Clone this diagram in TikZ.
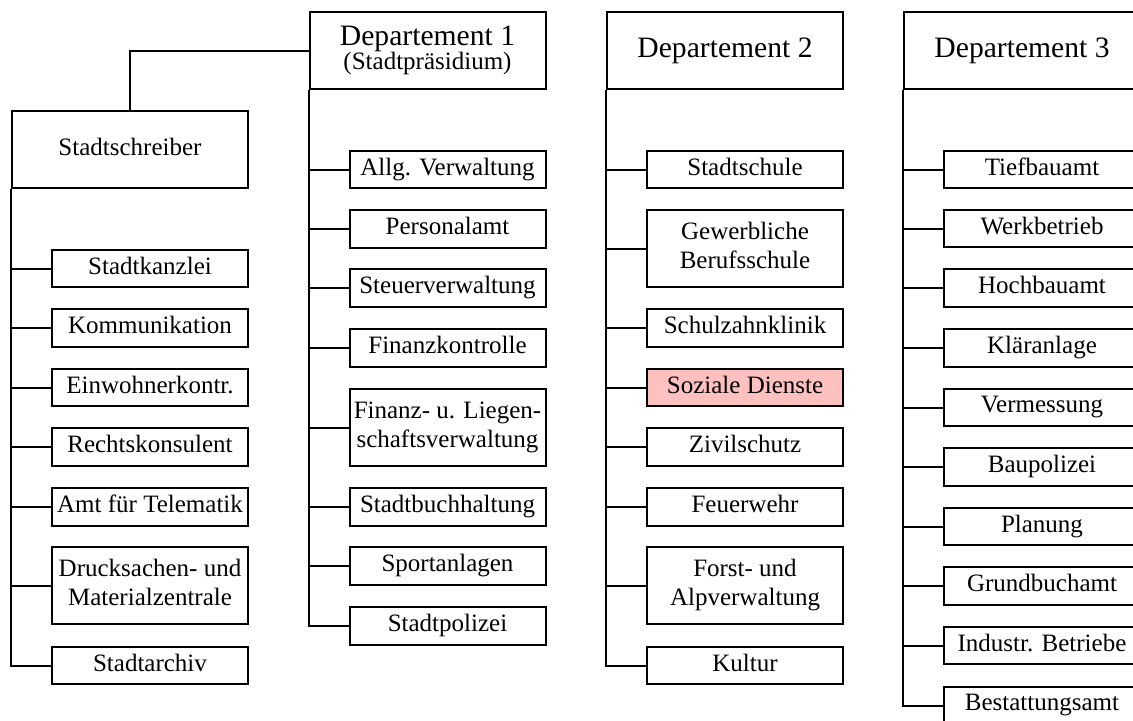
\documentclass[tikz,border=0pt]{standalone}
\usepackage{fontspec}
\setmainfont{Liberation Serif}
\definecolor{sozial}{RGB}{255,192,192}
\newcommand{\st}{\rule[-3pt]{0pt}{10pt}}

\begin{document}
\begin{tikzpicture}[x=0.5pt, y=-0.5pt, line width=1pt,
		amt/.style={draw, fill=white, minimum width=98pt, inner sep=0pt, align=center, font=\fontsize{12.5}{14.5}\selectfont},
		dept/.style={draw, minimum width=118pt, minimum height=38.5pt, inner sep=0pt, align=center, font=\fontsize{14.8}{12}\selectfont}]
		\clip (0,0) rectangle (1133,720);

		\node[dept] (d1) at (427.5,50.5) {Departement 1\\{\fontsize{12.5}{12}\selectfont (Stadtpräsidium)}};
		\node[dept] (d2) at (725,50.5) {\st Departement 2};
		\node[dept] (d3) at (1022,50.5) {\st Departement 3};
		\node[dept, font=\fontsize{12.5}{14.5}\selectfont] (ss) at (130,149.5) {\st Stadtschreiber};
		\draw (ss.north) |- (d1.west);

		\foreach \n/\y/\h/\f/\t in {kanzlei/268.5/18.75/white/Stadtkanzlei, komm/328/18.75/white/Kommunikation,
			einw/387.5/18.75/white/Einwohnerkontr., recht/447/18.75/white/Rechtskonsulent,
			telem/507/18.75/white/Amt für Telematik, druck/585.5/38.5/white/Drucksachen- und\\\st Materialzentrale,
			archiv/665.5/18.75/white/Stadtarchiv}
		{
			\node[amt, minimum height=\h pt, fill=\f] (\n) at (150,\y) {\st\t};
			\draw (ss.south west |- \n.west) -- (\n.west);
		}
		\draw (ss.south west) |- (archiv.west);

		\foreach \n/\y/\h/\f/\t in {allg/169.5/18.75/white/Allg. Verwaltung, personal/229/18.75/white/Personalamt,
			steuer/288/18.75/white/Steuerverwaltung, fkontr/348/18.75/white/Finanzkontrolle,
			liegen/427.5/38.5/white/Finanz- u. Liegen-\\\st schaftsverwaltung, buchh/507/18.75/white/Stadtbuchhaltung,
			sport/566/18.75/white/Sportanlagen, polizei/626/18.75/white/Stadtpolizei}
		{
			\node[amt, minimum height=\h pt, fill=\f] (\n) at (447.5,\y) {\st\t};
			\draw (d1.south west |- \n.west) -- (\n.west);
		}
		\draw (d1.south west) |- (polizei.west);

		\foreach \n/\y/\h/\f/\t in {schule/169.5/18.75/white/Stadtschule, gewerbe/248.5/38.5/white/Gewerbliche\\\st Berufsschule,
			zahn/328/18.75/white/Schulzahnklinik, sozial/387.5/18.75/sozial/Soziale Dienste,
			zivil/447/18.75/white/Zivilschutz, feuer/507/18.75/white/Feuerwehr,
			forst/585.5/38.5/white/Forst- und\\\st Alpverwaltung, kultur/665.5/18.75/white/Kultur}
		{
			\node[amt, minimum height=\h pt, fill=\f] (\n) at (745,\y) {\st\t};
			\draw (d2.south west |- \n.west) -- (\n.west);
		}
		\draw (d2.south west) |- (kultur.west);

		\foreach \n/\y/\t in {tief/169.5/Tiefbauamt, werk/228.5/Werkbetrieb, hoch/288/Hochbauamt,
			klaer/348/Kläranlage, verm/407.5/Vermessung, baupol/467/Baupolizei, planung/526.5/Planung,
			grund/586/Grundbuchamt, industr/645.5/Industr. Betriebe, bestatt/705.5/Bestattungsamt}
		{
			\node[amt, minimum height=18.75pt] (\n) at (1042,\y) {\st\t};
			\draw (d3.south west |- \n.west) -- (\n.west);
		}
		\draw (d3.south west) |- (bestatt.west);
	\end{tikzpicture}
\end{document}
